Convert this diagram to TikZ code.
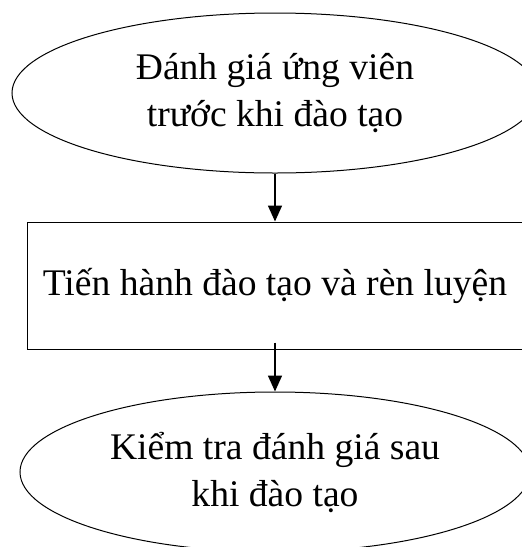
\documentclass[tikz,border=0pt]{standalone}
\usepackage{fontspec}
\setmainfont{Liberation Serif}
\usetikzlibrary{arrows.meta}
\usetikzlibrary{shapes.geometric}

\begin{document}
\begin{tikzpicture}[
		x=1pt, y=-1pt,
		line width=1pt,
		>={Triangle[length=16pt,width=14pt]},
		stage/.style={draw, ellipse, inner sep=0pt, align=center,
			font=\fontsize{37.6}{47}\selectfont},
		task/.style={draw, rectangle, inner sep=0pt, align=center,
			font=\fontsize{37.6}{47}\selectfont},
	]
		\useasboundingbox (0, 0) rectangle (522, 547);
		\clip (0, 0) rectangle (522, 547);

		% stages
		\node[stage, minimum width=526pt, minimum height=160pt] (pre) at (275, 93)
			{Đánh giá ứng viên\\trước khi đào tạo};
		\node[task, minimum width=496pt, minimum height=127pt] (train) at (275, 285.5)
			{Tiến hành đào tạo và rèn luyện};
		\node[stage, minimum width=510pt, minimum height=160pt] (post) at (275, 472)
			{Kiểm tra đánh giá sau\\khi đào tạo};

		% flow
		\path [->, line width=1.5pt] (pre) edge (train);
		\path [->, line width=1.5pt] ([yshift=7pt]train.south) edge (post);
	\end{tikzpicture}
\end{document}
